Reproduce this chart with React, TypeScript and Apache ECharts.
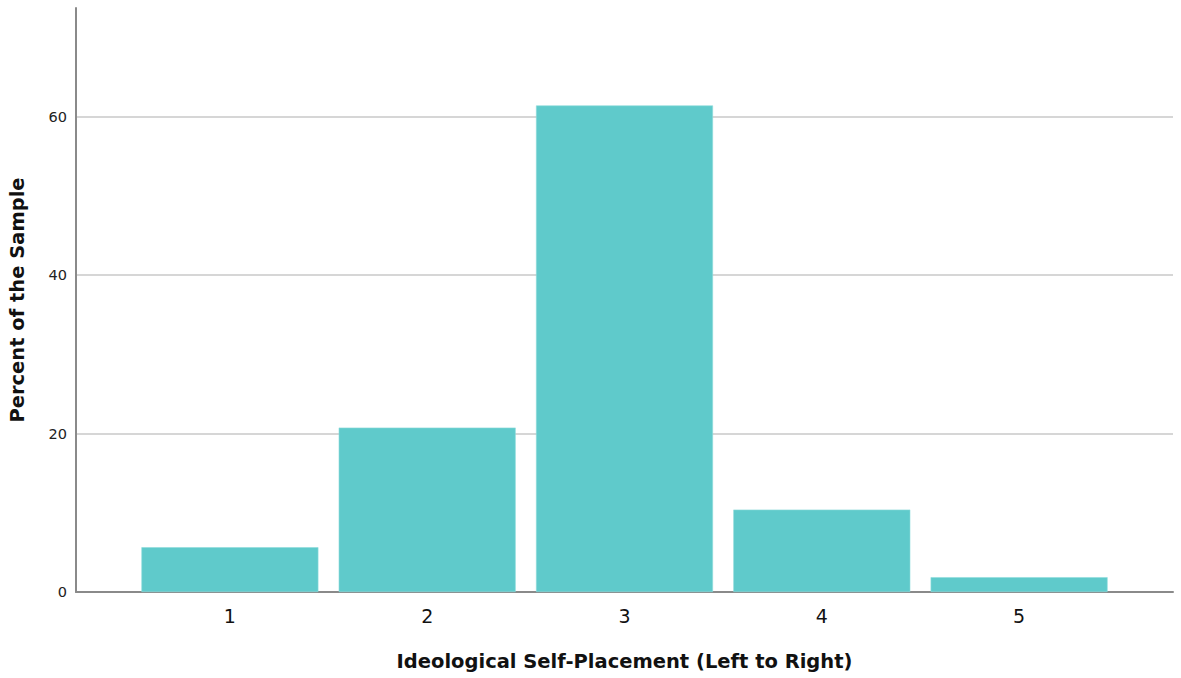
import React, { useEffect, useRef } from "react";
import * as echarts from "echarts";

const categories = [1, 2, 3, 4, 5];
const percents = [5.65, 20.75, 61.4, 10.4, 1.87];
const yTicks = [0, 20, 40, 60];

export default function App() {
  const ref = useRef<HTMLDivElement>(null);
  useEffect(() => {
    if (!ref.current) return;
    const chart = echarts.init(ref.current, null, { renderer: "svg" });
    const font = "'DejaVu Sans', Verdana, sans-serif";
    chart.setOption({
      animation: false,
      grid: { left: 76, right: 8, top: 8, bottom: 86, outerBoundsMode: "none", containLabel: false },
      xAxis: {
        type: "value",
        min: 0.22,
        max: 5.78,
        name: "Ideological Self-Placement (Left to Right)",
        nameLocation: "middle",
        nameGap: 59,
        nameTextStyle: { fontFamily: font, fontSize: 19.5, fontWeight: "bold", color: "#111" },
        axisLine: { show: true, lineStyle: { color: "#8a8a8a", width: 2 } },
        axisTick: { show: false },
        splitLine: { show: false },
        axisLabel: {
          customValues: categories,
          fontFamily: font,
          fontSize: 19,
          color: "#111",
          margin: 14,
        },
      },
      yAxis: {
        type: "value",
        min: 0,
        max: 73.7,
        name: "Percent of the Sample",
        nameLocation: "middle",
        nameGap: 49,
        nameTextStyle: { fontFamily: font, fontSize: 19.5, fontWeight: "bold", color: "#111" },
        axisLine: { show: true, lineStyle: { color: "#8a8a8a", width: 2 } },
        axisTick: { show: false, customValues: yTicks },
        splitLine: { show: true, lineStyle: { color: "#c8c8c8", width: 1.5 } },
        axisLabel: {
          customValues: yTicks,
          fontFamily: font,
          fontSize: 14.5,
          color: "#222",
          margin: 9,
        },
      },
      series: [
        {
          type: "bar",
          data: categories.map((c, i) => [c, percents[i]]),
          barWidth: 177,
          itemStyle: { color: "#5fcacb", borderColor: "#8fdcdc", borderWidth: 0.6 },
        },
      ],
    });
    return () => chart.dispose();
  }, []);
  return (
    <div
      ref={ref}
      style={{ position: "fixed", left: 0, top: 0, width: 1181, height: 678, background: "#fff" }}
    />
  );
}
